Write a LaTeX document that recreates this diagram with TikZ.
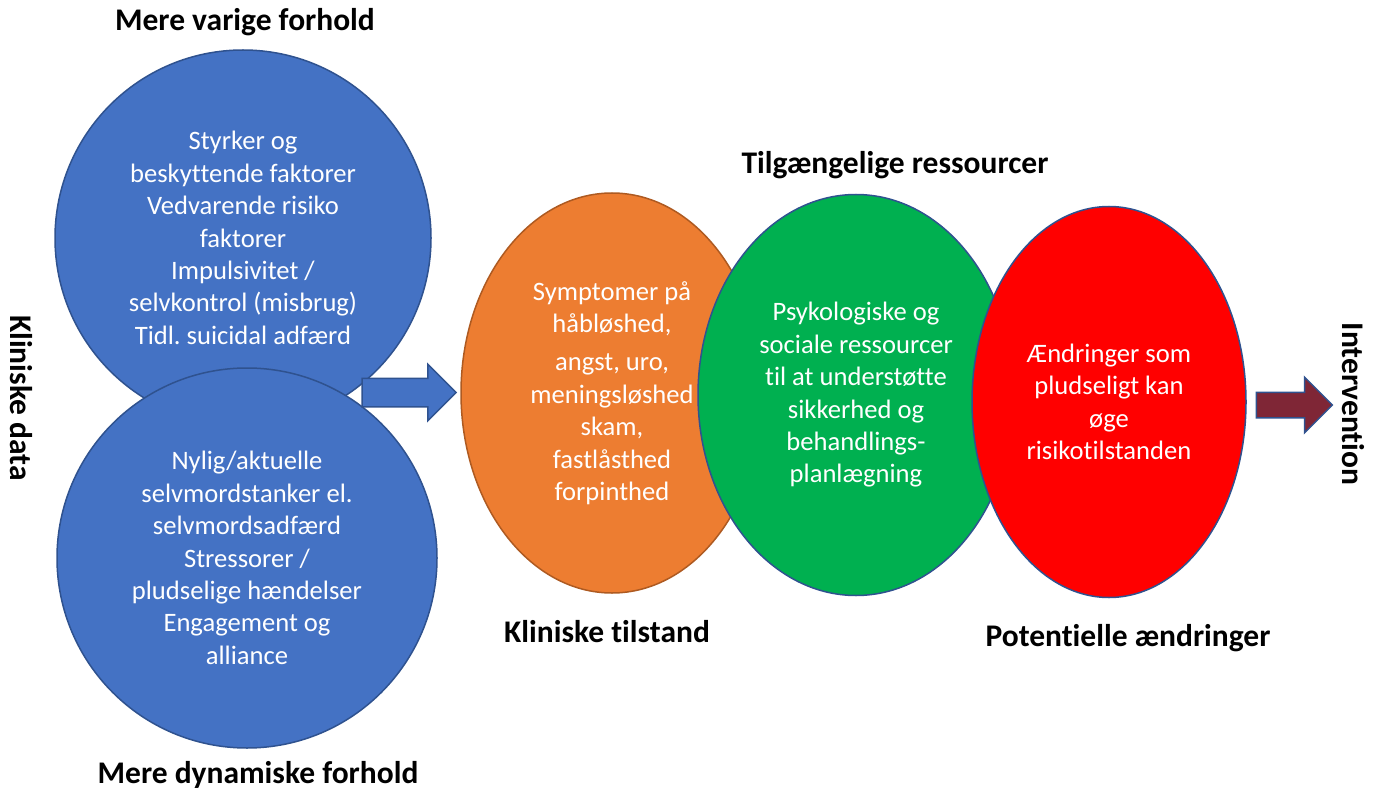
\documentclass[tikz,border=0pt]{standalone}
\usepackage{fontspec}
\setmainfont{Carlito}[Ligatures=NoCommon]
\usetikzlibrary{positioning,shapes.geometric,shapes.arrows}
\definecolor{blaa}{HTML}{4472C4}
\definecolor{orangegul}{HTML}{ED7D31}
\definecolor{groen}{HTML}{00B050}
\definecolor{roed}{HTML}{FF0000}
\definecolor{vinroed}{HTML}{7F2636}
\definecolor{kant}{HTML}{2F528F}
\definecolor{brun}{HTML}{AE5A21}
\frenchspacing

\begin{document}
\begin{tikzpicture}[x=1pt, y=-1pt,
    tekst/.style={font=\fontsize{26.6}{32.4}\selectfont, text=white, align=center},
    titel/.style={font=\fontsize{31.5}{38}\selectfont\bfseries},
    boble/.style={draw=kant, line width=1.5pt, inner sep=0pt, tekst},
    pil/.style={single arrow, draw=kant, line width=1.5pt, single arrow head indent=0pt}]
    \useasboundingbox (0,0) rectangle (1383,794);
    \node[boble, circle, fill=blaa, minimum size=376pt] (varig) at (243,238)
      {Styrker og\\beskyttende faktorer\\Vedvarende risiko\\faktorer\\Impulsivitet /\\selvkontrol (misbrug)\\Tidl. suicidal adfærd};
    \node[boble, circle, fill=blaa, minimum size=380pt] (dynamisk) at (247,558)
      {Nylig/aktuelle\\selvmordstanker el.\\selvmordsadfærd\\Stressorer /\\pludselige hændelser\\Engagement og\\alliance};
    \node[pil, fill=blaa, minimum height=94pt, minimum width=55pt,
          single arrow head extend=14pt, inner sep=13.5pt] (pilind) at (402,392.5) {};
    \node[boble, ellipse, draw=brun, fill=orangegul, minimum width=302pt, minimum height=400pt] (tilstand) at (612,393)
      {Symptomer på\\håbløshed,\\[6pt]angst, uro,\\meningsløshed\\skam,\\fastlåsthed\\forpinthed};
    \node[boble, ellipse, fill=groen, minimum width=316pt, minimum height=401pt] (ressourcer) at (856,395)
      {Psykologiske og\\sociale ressourcer\\til at understøtte\\sikkerhed og\\behandlings-\\planlægning};
    \node[boble, ellipse, fill=roed, minimum width=274pt, minimum height=391pt] (aendringer) at (1109,402)
      {Ændringer som\\pludseligt kan\\øge\\risikotilstanden};
    \node[pil, fill=vinroed, minimum height=76pt, minimum width=54pt,
          single arrow head extend=15pt, inner sep=12pt] (pilud) at (1288,405) {};
    % overskrifter
    \node[titel] (varigtitel) at (245,22) {Mere varige forhold};
    \node[titel] (dynamisktitel) at (258,775) {Mere dynamiske forhold};
    \node[titel] (ressourcetitel) at (895,165) {Tilgængelige ressourcer};
    \node[titel] (tilstandtitel) at (607,632) {Kliniske tilstand};
    \node[titel] (aendringtitel) at (1128,638) {Potentielle ændringer};
    \node[titel, rotate=-90] (datatitel) at (21,398) {Kliniske data};
    \node[titel, rotate=-90] (interventiontitel) at (1353,404) {Intervention};
\end{tikzpicture}
\end{document}
